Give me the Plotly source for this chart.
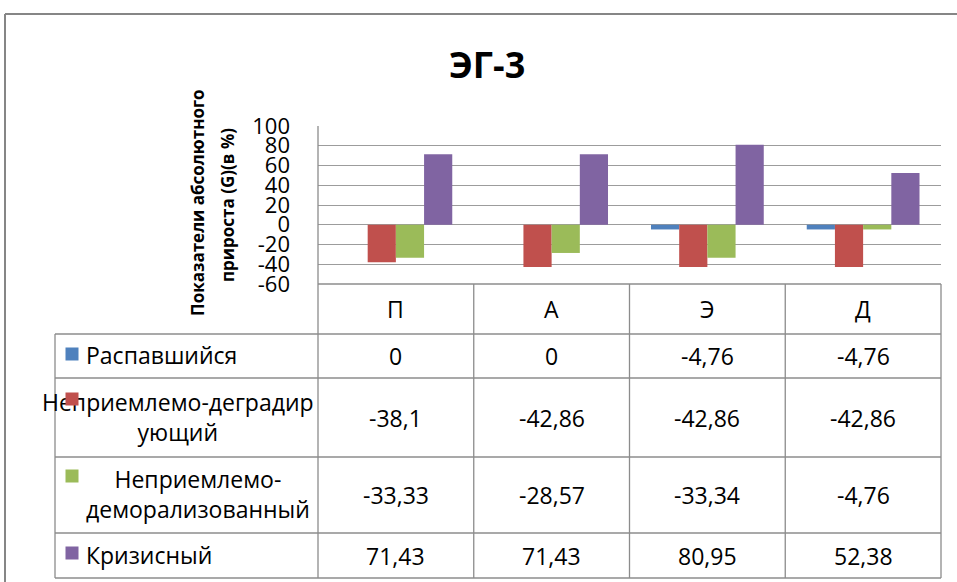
import plotly.graph_objects as go

# ---- data ----
categories = ["П", "А", "Э", "Д"]
series_names = ["Распавшийся", "Неприемлемо-деградирующий",
                "Неприемлемо-деморализованный", "Кризисный"]
row_labels = ["Распавшийся", "Неприемлемо-деградир<br>ующий",
              "Неприемлемо-<br>деморализованный", "Кризисный"]
raspavshiysya = [0, 0, -4.76, -4.76]
degradiruyushchiy = [-38.1, -42.86, -42.86, -42.86]
demoralizovannyy = [-33.33, -28.57, -33.34, -4.76]
krizisnyy = [71.43, 71.43, 80.95, 52.38]
y_ticks = [100, 80, 60, 40, 20, 0, -20, -40, -60]

values = [raspavshiysya, degradiruyushchiy, demoralizovannyy, krizisnyy]
colors = ["#4f81bd", "#c0504d", "#9bbb59", "#8064a2"]

W, H = 957, 582
FONT = "Open Sans"
LINE = "#8c8c8c"


def px(x):
    return x / W


def py(y):
    return 1 - y / H


def fmt(v):
    return f"{v:g}".replace(".", ",")


# plot area in pixels
PX0, PX1 = 318, 941
PY_TOP, PY_BOT = 126, 284
# data table rows (pixel y of horizontal rules)
rules = [284, 334, 378, 457, 533, 578]
TABLE_LEFT = 55

fig = go.Figure()
for name, vals, col in zip(series_names, values, colors):
    fig.add_trace(go.Bar(x=categories, y=vals, name=name,
                         marker=dict(color=col, line=dict(width=0))))

shapes = []
# outer chart border
shapes.append(dict(type="line", xref="paper", yref="paper",
                   x0=px(5), x1=px(5), y0=py(14), y1=0,
                   line=dict(color="#868686", width=2)))
shapes.append(dict(type="line", xref="paper", yref="paper",
                   x0=px(5), x1=1, y0=py(14), y1=py(14),
                   line=dict(color="#868686", width=2)))
# vertical axis line through plot and table
shapes.append(dict(type="line", xref="paper", yref="paper",
                   x0=px(PX0), x1=px(PX0), y0=py(PY_TOP), y1=py(rules[-1]),
                   line=dict(color=LINE, width=1.3)))
# table horizontal rules
for i, r in enumerate(rules):
    x0 = PX0 if i == 0 else TABLE_LEFT
    shapes.append(dict(type="line", xref="paper", yref="paper",
                       x0=px(x0), x1=px(PX1), y0=py(r), y1=py(r),
                       line=dict(color=LINE, width=1.3)))
# table vertical rules
step = (PX1 - PX0) / len(categories)
for k in range(1, len(categories) + 1):
    xv = PX0 + k * step
    shapes.append(dict(type="line", xref="paper", yref="paper",
                       x0=px(xv), x1=px(xv), y0=py(rules[0]), y1=py(rules[-1]),
                       line=dict(color=LINE, width=1.3)))
shapes.append(dict(type="line", xref="paper", yref="paper",
                   x0=px(TABLE_LEFT), x1=px(TABLE_LEFT), y0=py(rules[1]), y1=py(rules[-1]),
                   line=dict(color=LINE, width=1.3)))

annotations = []
# title
annotations.append(dict(text="<b>ЭГ-3</b>", xref="paper", yref="paper",
                        x=px(487), y=py(64), showarrow=False,
                        font=dict(family=FONT, size=36, color="#000000"),
                        xanchor="center", yanchor="middle"))
# y-axis title (two rotated lines)
annotations.append(dict(text="<b>Показатели абсолютного</b>", xref="paper", yref="paper",
                        x=px(197), y=py(203), showarrow=False, textangle=-90,
                        font=dict(family=FONT, size=17, color="#000000"),
                        xanchor="center", yanchor="middle"))
annotations.append(dict(text="<b>прироста (G)(в %)</b>", xref="paper", yref="paper",
                        x=px(227), y=py(205), showarrow=False, textangle=-90,
                        font=dict(family=FONT, size=17, color="#000000"),
                        xanchor="center", yanchor="middle"))

TFONT = dict(family=FONT, size=23, color="#000000")
# category header row
for c in categories:
    annotations.append(dict(text=c, xref="x", yref="paper", x=c,
                            y=py((rules[0] + rules[1]) / 2), showarrow=False,
                            font=TFONT, xanchor="center", yanchor="middle"))
# value cells
for i, vals in enumerate(values):
    yc = py((rules[i + 1] + rules[i + 2]) / 2)
    for c, v in zip(categories, vals):
        annotations.append(dict(text=fmt(v), xref="x", yref="paper", x=c, y=yc,
                                showarrow=False, font=TFONT,
                                xanchor="center", yanchor="middle"))
# row labels
label_pos = [(84, 355, "left"), (178, 417, "center"),
             (198, 494, "center"), (84, 555, "left")]
for lab, (lx, ly, anc) in zip(row_labels, label_pos):
    annotations.append(dict(text=lab, xref="paper", yref="paper",
                            x=px(lx), y=py(ly), showarrow=False, font=TFONT,
                            xanchor=anc, yanchor="middle", align="center"))
# legend keys drawn over the labels
key_y = [354, 399, 476, 553]
for col, ky in zip(colors, key_y):
    annotations.append(dict(text=" ", xref="paper", yref="paper",
                            x=px(72), y=py(ky), showarrow=False,
                            width=12, height=12, bgcolor=col, borderpad=0,
                            font=dict(size=2), xanchor="center", yanchor="middle"))

fig.update_layout(
    width=W, height=H, autosize=False,
    margin=dict(l=0, r=0, t=0, b=0, pad=0, autoexpand=False),
    paper_bgcolor="#ffffff", plot_bgcolor="#ffffff",
    barmode="group", bargap=0.276, bargroupgap=0,
    showlegend=False,
    font=dict(family=FONT, color="#000000"),
    xaxis=dict(domain=[px(PX0), px(PX1)], showticklabels=False, ticks="",
               showline=False, showgrid=False, zeroline=False, automargin=False),
    yaxis=dict(domain=[py(PY_BOT), py(PY_TOP)], range=[-60, 100],
               tickvals=y_ticks, ticktext=[str(t) for t in y_ticks],
               tickfont=dict(family=FONT, size=22, color="#000000"),
               ticks="", ticklabelstandoff=27, automargin=False,
               showgrid=True, gridcolor="#9c9c9c", gridwidth=1.3,
               zeroline=False, showline=False),
    shapes=shapes,
    annotations=annotations,
)

fig.write_html("out.html")
